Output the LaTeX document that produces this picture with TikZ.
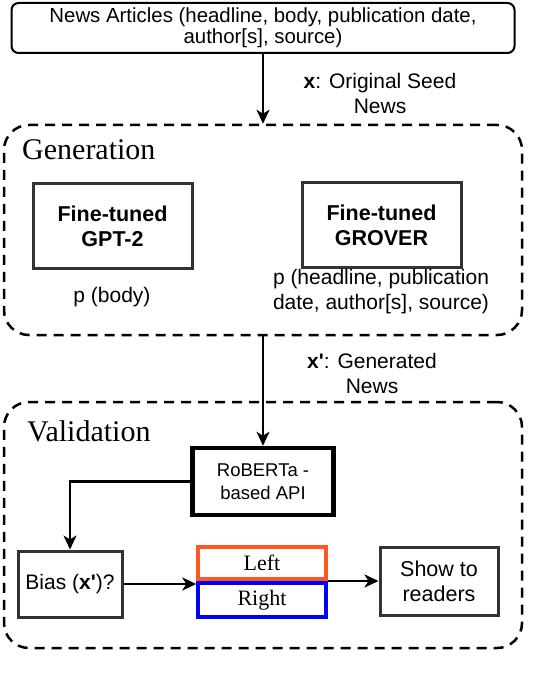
\documentclass[tikz,border=0pt]{standalone}
\usepackage{fontspec}
\setmainfont{Liberation Serif}
\setsansfont{Liberation Sans}
\newfontfamily\plainsans{Liberation Sans}[Ligatures=TeXOff]
\usetikzlibrary{arrows.meta}
\definecolor{lorange}{HTML}{FF5722}
\definecolor{rblue}{HTML}{0000FF}
\newcommand{\sq}{{\plainsans\bfseries\char"0027}}
\begin{document}
\begin{tikzpicture}[x=1pt,y=-1pt,
  sans/.style={font=\sffamily\fontsize{21}{25}\selectfont, align=center, inner sep=0pt},
  ser/.style={font=\rmfamily\fontsize{22}{25}\selectfont, inner sep=0pt},
  title/.style={font=\rmfamily\fontsize{30}{34}\selectfont, inner sep=0pt, anchor=base west},
  container/.style={draw=black, dashed, dash pattern=on 10pt off 7pt, line width=2.5pt, rounded corners=25pt, inner sep=0pt},
  graybox/.style={draw=black!80, line width=3pt, inner sep=0pt, align=center},
  arr/.style={line width=2.8pt, -{Stealth[length=14pt,width=13pt,inset=4pt]}},
  ln/.style={line width=2.5pt}
]
\useasboundingbox (0,0) rectangle (546,684);
\clip (0,0) rectangle (546,684);

% top box
\node[draw=black, line width=2pt, rounded corners=7pt, minimum width=503pt, minimum height=50pt, inner sep=0pt,
      font=\sffamily\fontsize{20.4}{21}\selectfont, align=center] (top) at (263,28)
  {News Articles (headline, body, publication date,\\author[s], source)};

% containers
\node[container, minimum width=518pt, minimum height=210pt] (gen) at (263,230) {};
\node[container, minimum width=518pt, minimum height=246pt] (val) at (263,525) {};

\node[title] (gentitle) at (22,160) {Generation};
\node[title] (valtitle) at (27,441) {Validation};

% labels of arrows
\node[sans] (lab1) at (380,93) {\textbf{x}: Original Seed\\News};
\node[sans] (lab2) at (372,373) {\textbf{x\sq}: Generated\\News};

% generation boxes
\node[graybox, minimum width=159pt, minimum height=84pt, font=\sffamily\bfseries\fontsize{21.5}{25}\selectfont] (gpt) at (112.5,226) {Fine-tuned\\GPT-2};
\node[graybox, minimum width=159pt, minimum height=84pt, font=\sffamily\bfseries\fontsize{21.5}{25}\selectfont] (grover) at (381.5,225) {Fine-tuned\\GROVER};
\node[sans] (pbody) at (112,297) {p (body)};
\node[sans] (phead) at (381,292) {p (headline, publication\\date, author[s], source)};

% validation
\node[draw=black, line width=4.5pt, minimum width=141pt, minimum height=67pt, inner sep=0pt, align=center,
      font=\sffamily\fontsize{18.5}{23}\selectfont] (rob) at (263,481.5) {RoBERTa -\\based API};
\node[graybox, minimum width=104pt, minimum height=66pt, font=\sffamily\fontsize{21}{25}\selectfont] (bias) at (70,584) {Bias (\textbf{x\sq})?};
\node[draw=lorange, line width=3.5pt, minimum width=128pt, minimum height=32pt, ser] (left) at (262,563) {Left};
\node[draw=rblue, line width=3.5pt, minimum width=128pt, minimum height=34pt, ser] (right) at (262,600) {Right};
\node[graybox, minimum width=118pt, minimum height=68pt, font=\sffamily\fontsize{21.5}{25}\selectfont] (show) at (439,581) {Show to\\readers};

% connectors
\draw[arr] (top.south) -- (gen.north);
\draw[arr] (gen.south) -- (rob.north);
\draw[arr] (rob.west) -| (bias.north);
\draw[arr] (bias.east) -- (bias.east -| left.west);
\draw[arr] (left.south east |- show.west) -- (show.west);

% caption (cut off by the picture edge)
\node[font=\rmfamily\fontsize{26.5}{30}\selectfont, text=black!55, anchor=base west, inner sep=0pt] (cap) at (17,703)
  {Figure 2: Biased News Generation Procedure};
\end{tikzpicture}
\end{document}
